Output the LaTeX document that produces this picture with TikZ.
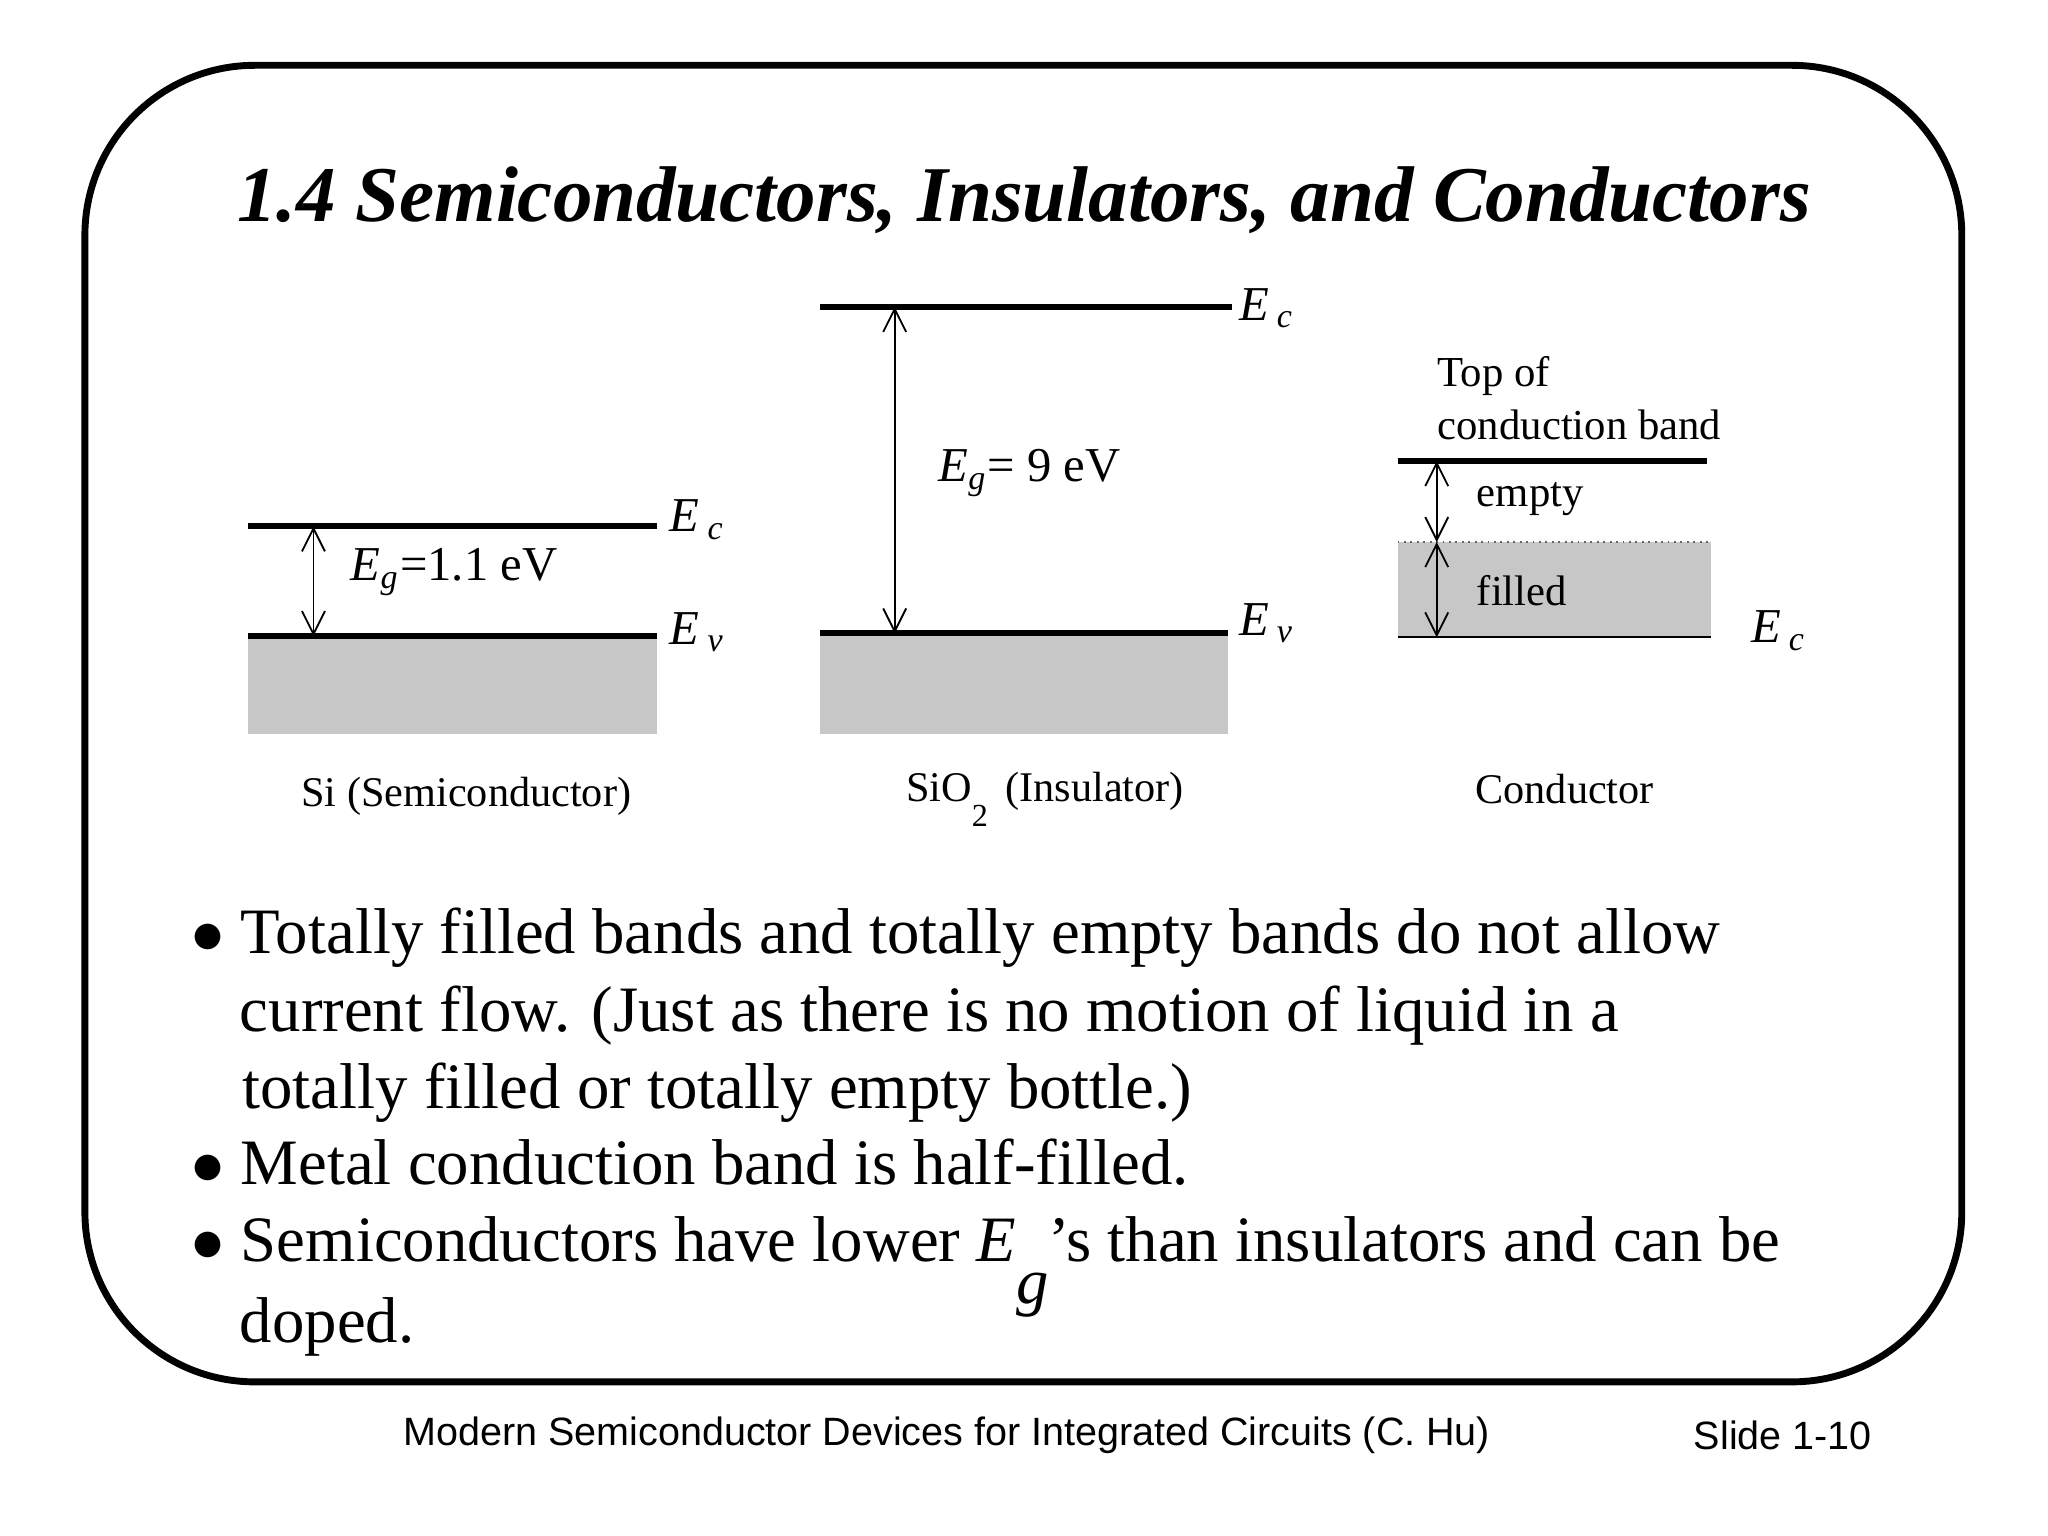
\documentclass[tikz,border=0pt]{standalone}
\usepackage{fontspec}
\setmainfont{Liberation Serif}
\newfontfamily\footfont{Liberation Sans}
\usetikzlibrary{arrows.meta}
\newcommand{\En}[1]{\textit{E}\,\textsubscript{\textit{#1}}}
\tikzset{
  level/.style={line width=1.3pt},
  band/.style={fill=black!22},
  gap/.style={thin,{Straight Barb[length=5pt,width=5pt]}-{Straight Barb[length=5pt,width=5pt]}},
  lbl/.style={anchor=west,inner sep=0pt,font=\fontsize{9.3}{11.5}\selectfont},
  eglbl/.style={lbl,font=\fontsize{10.6}{12}\selectfont},
  caption/.style={inner sep=0pt,font=\fontsize{9.2}{11}\selectfont},
  bul/.style={anchor=base west,inner sep=0pt,font=\fontsize{14.1}{17}\selectfont}
}
\begin{document}
\begin{tikzpicture}[x=0.01cm,y=-0.01cm]
\useasboundingbox (0,0) rectangle (1568,1176);
\draw [line width=1.5pt,rounded corners=1.3cm] (65,50) rectangle (1502,1058);
\node [inner sep=0pt,font=\fontsize{17.2}{20}\selectfont\bfseries\itshape] (title) at (784,153) {1.4 Semiconductors, Insulators, and Conductors};

% Si
\fill [band] (190,487) rectangle (503,562);
\coordinate (sc) at (190,403); \coordinate (sc2) at (503,403);
\coordinate (sv) at (190,487); \coordinate (sv2) at (503,487);
\draw [level] (sc) -- (sc2);
\draw [level] (sv) -- (sv2);
\coordinate (sa) at (240,403); \coordinate (sb) at (240,487);
\draw [gap] (sa) -- (sb);
\node [eglbl] (siec) at (512,398) {\En{c}};
\node [eglbl] (siev) at (512,484) {\En{v}};
\node [eglbl] (sieg) at (268,438) {\textit{E}\textsubscript{\textit{g}}=1.1 eV};
\node [caption] (si) at (357,610) {Si (Semiconductor)};

% SiO2
\fill [band] (628,485) rectangle (940,562);
\coordinate (ic) at (628,235); \coordinate (ic2) at (943,235);
\coordinate (iv) at (628,485); \coordinate (iv2) at (940,485);
\draw [level] (ic) -- (ic2);
\draw [level] (iv) -- (iv2);
\coordinate (ia) at (685,235); \coordinate (ib) at (685,485);
\draw [gap] (ia) -- (ib);
\node [eglbl] (oxec) at (948,236) {\En{c}};
\node [eglbl] (oxev) at (948,477) {\En{v}};
\node [eglbl] (oxeg) at (718,362) {\textit{E}\textsubscript{\textit{g}}= 9 eV};
\node [caption] (ox) at (800,612) {SiO\raisebox{-1.3ex}{\scriptsize 2} \,(Insulator)};

% Conductor
\fill [band] (1070,415) rectangle (1310,488);
\coordinate (ct) at (1070,353); \coordinate (ct2) at (1307,353);
\coordinate (cb) at (1070,488); \coordinate (cb2) at (1310,488);
\coordinate (cf) at (1070,415); \coordinate (cf2) at (1310,415);
\draw [level] (ct) -- (ct2);
\draw [thin] (cb) -- (cb2);
\draw [thin,densely dotted,black!60] (cf) -- (cf2);
\coordinate (ca) at (1100,353); \coordinate (cm) at (1100,415); \coordinate (cz) at (1100,488);
\draw [gap] (ca) -- (cm);
\draw [gap] (cm) -- (cz);
\node [lbl,align=left] (top) at (1100,305) {Top of\\conduction band};
\node [lbl] (empty) at (1130,382) {empty};
\node [lbl] (filled) at (1130,452) {filled};
\node [eglbl] (coec) at (1340,483) {\En{c}};
\node [caption] (co) at (1198,604) {Conductor};

% bullets
\node [bul] (b1) at (146,730) {$\bullet$ Totally filled bands and totally empty bands do not allow};
\node [bul] (b1b) at (183,790) {current flow. (Just as there is no motion of liquid in a};
\node [bul] (b1c) at (185,849) {totally filled or totally empty bottle.)};
\node [bul] (b2) at (146,907) {$\bullet$ Metal conduction band is half-filled.};
\node [bul] (b3) at (146,966) {$\bullet$ Semiconductors have lower \textit{E}\raisebox{-1.4ex}{\textit{g}}'s than insulators and can be};
\node [bul] (b3b) at (183,1028) {doped.};

% footer
\node [inner sep=0pt,font=\footfont\fontsize{8.6}{10}\selectfont] (foot) at (725,1099) {Modern Semiconductor Devices for Integrated Circuits (C. Hu)};
\node [inner sep=0pt,font=\footfont\fontsize{8.6}{10}\selectfont] (slide) at (1365,1099) {Slide 1-10};
\end{tikzpicture}
\end{document}
